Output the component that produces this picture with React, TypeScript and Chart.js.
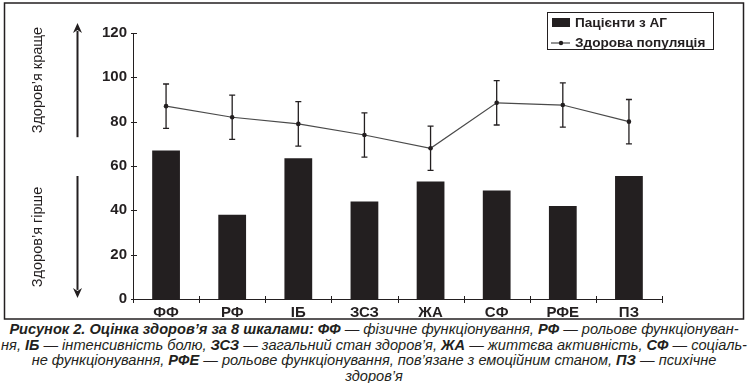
import React, { useEffect, useRef } from "react";
import { Chart, registerables } from "chart.js";

Chart.register(...registerables);

const categories = ["ФФ", "РФ", "ІБ", "ЗСЗ", "ЖА", "СФ", "РФЕ", "ПЗ"];
const patients = [67, 38, 63.5, 44, 53, 49, 42, 55.5];
const healthy = [87, 82, 79, 74, 68, 88.5, 87.5, 80];
const healthyErr = [10, 10, 10, 10, 10, 10, 10, 10];
const seriesLabels = ["Пацієнти з АГ", "Здорова популяція"];
const yTicks = [0, 20, 40, 60, 80, 100, 120];
const sideLabels = ["Здоров’я краще", "Здоров’я гірше"];
// arrow ranges in axis units: [tail, tip]
const arrowUp = [73, 124.5];
const arrowDown = [55.5, 0.5];

const INK = "#231f20";
const FONT = "'Liberation Sans', Arial, sans-serif";

const decorPlugin = {
  id: "decor",
  afterDatasetsDraw(chart: any) {
    const ctx = chart.ctx;
    const y = chart.scales.y;
    const meta = chart.getDatasetMeta(1);
    ctx.save();
    ctx.strokeStyle = INK;
    ctx.lineWidth = 1.3;
    meta.data.forEach((pt: any, i: number) => {
      const px = pt.x;
      const top = y.getPixelForValue(healthy[i] + healthyErr[i]);
      const bot = y.getPixelForValue(healthy[i] - healthyErr[i]);
      ctx.beginPath();
      ctx.moveTo(px, top);
      ctx.lineTo(px, bot);
      ctx.moveTo(px - 3, top);
      ctx.lineTo(px + 3, top);
      ctx.moveTo(px - 3, bot);
      ctx.lineTo(px + 3, bot);
      ctx.stroke();
    });
    ctx.restore();
  },
  afterDraw(chart: any) {
    const ctx = chart.ctx;
    const y = chart.scales.y;
    const area = chart.chartArea;
    ctx.save();
    ctx.strokeStyle = INK;
    ctx.fillStyle = INK;
    // tick marks crossing axes
    ctx.lineWidth = 1;
    ctx.beginPath();
    yTicks.forEach((v) => {
      const py = Math.round(y.getPixelForValue(v)) + 0.5;
      ctx.moveTo(area.left - 2, py);
      ctx.lineTo(area.left + 4, py);
    });
    const n = categories.length;
    for (let i = 0; i <= n; i++) {
      const px = Math.round(area.left + (i * (area.right - area.left)) / n) + 0.5;
      ctx.moveTo(px, area.bottom - 3);
      ctx.lineTo(px, area.bottom + 4);
    }
    ctx.stroke();

    // arrows
    const ax = 77.5;
    const drawArrow = (from: number, to: number) => {
      const p1 = y.getPixelForValue(from);
      const p2 = y.getPixelForValue(to);
      const dir = p2 < p1 ? -1 : 1;
      const headLen = 10;
      ctx.lineWidth = 2;
      ctx.beginPath();
      ctx.moveTo(ax, p1);
      ctx.lineTo(ax, p2 - dir * headLen + dir * 2);
      ctx.stroke();
      ctx.beginPath();
      ctx.moveTo(ax, p2);
      ctx.lineTo(ax - 4.5, p2 - dir * headLen);
      ctx.lineTo(ax, p2 - dir * (headLen - 3));
      ctx.lineTo(ax + 4.5, p2 - dir * headLen);
      ctx.closePath();
      ctx.fill();
      return (p1 + p2) / 2;
    };
    const c1 = drawArrow(arrowUp[0], arrowUp[1]);
    const c2 = drawArrow(arrowDown[0], arrowDown[1]);
    ctx.font = `14.5px ${FONT}`;
    ctx.textAlign = "center";
    ctx.textBaseline = "middle";
    [c1, c2].forEach((cy, i) => {
      ctx.save();
      ctx.translate(38, cy);
      ctx.rotate(-Math.PI / 2);
      ctx.fillText(sideLabels[i], 0, 0);
      ctx.restore();
    });

    // legend box
    const lx = 547.5, ly = 12.5, lw = 166, lh = 37;
    ctx.lineWidth = 1;
    ctx.strokeRect(lx, ly, lw, lh);
    ctx.fillStyle = chart.data.datasets[0].backgroundColor;
    ctx.fillRect(552, 18, 18, 9);
    ctx.strokeStyle = chart.data.datasets[1].borderColor;
    ctx.lineWidth = 1.2;
    ctx.beginPath();
    ctx.moveTo(551, 43);
    ctx.lineTo(570, 43);
    ctx.stroke();
    ctx.fillStyle = INK;
    ctx.beginPath();
    ctx.arc(561, 43, 2.2, 0, Math.PI * 2);
    ctx.fill();
    ctx.font = `bold 13.6px ${FONT}`;
    ctx.textAlign = "left";
    ctx.fillText(chart.data.datasets[0].label, 575, 23);
    ctx.fillText(chart.data.datasets[1].label, 575, 43.5);

    // outer frame
    ctx.lineWidth = 1.5;
    ctx.strokeStyle = INK;
    ctx.strokeRect(4.5, 3, 739, 316);
    ctx.restore();
  },
};

export default function App() {
  const ref = useRef<HTMLCanvasElement>(null);
  useEffect(() => {
    if (!ref.current) return;
    const chart = new Chart(ref.current, {
      type: "bar",
      data: {
        labels: categories,
        datasets: [
          {
            type: "bar",
            label: seriesLabels[0],
            data: patients,
            backgroundColor: INK,
            borderWidth: 0,
            categoryPercentage: 1,
            barPercentage: 0.42,
            order: 2,
          },
          {
            type: "line",
            label: seriesLabels[1],
            data: healthy,
            borderColor: "#4a4a4a",
            borderWidth: 1.2,
            pointRadius: 2.3,
            pointBackgroundColor: INK,
            pointBorderColor: INK,
            pointBorderWidth: 0,
            tension: 0,
            order: 1,
          } as any,
        ],
      },
      options: {
        animation: false,
        responsive: false,
        layout: { padding: { left: 0, right: 86, top: 33, bottom: 0 } },
        plugins: {
          legend: { display: false },
          tooltip: { enabled: false },
        },
        scales: {
          x: {
            offset: true,
            grid: { display: false, drawTicks: false },
            border: { display: true, color: INK, width: 1 },
            ticks: {
              color: INK,
              padding: 5,
              font: { family: FONT, size: 15, weight: "bold" },
            },
            afterFit: (s: any) => {
              s.height = 21;
            },
          },
          y: {
            min: 0,
            max: 120,
            ticks: {
              stepSize: 20,
              color: INK,
              padding: 6,
              font: { family: FONT, size: 15, weight: "bold" },
            },
            grid: { display: false, drawTicks: false },
            border: { display: true, color: INK, width: 1 },
            afterFit: (s: any) => {
              s.width = 133;
            },
          },
        },
      },
      plugins: [decorPlugin],
    });
    return () => chart.destroy();
  }, []);

  const capStyle: React.CSSProperties = {
    fontFamily: FONT,
    fontStyle: "italic",
    fontSize: "14.6px",
    lineHeight: "15.7px",
    color: INK,
    textAlign: "center",
    whiteSpace: "nowrap",
  };
  const b = (t: string) => <b>{t}</b>;
  return (
    <div style={{ position: "absolute", left: 0, top: 0, width: 748, height: 383, background: "#fff" }}>
      <canvas ref={ref} width={748} height={320} style={{ display: "block" }} />
      <div style={{ position: "absolute", left: 0, top: 322, width: 748, ...capStyle }}>
        <div>
          {b("Рисунок 2. Оцінка здоров’я за 8 шкалами: ФФ")} — фізичне функціонування, {b("РФ")} — рольове функціонуван-
        </div>
        <div>
          ня, {b("ІБ")} — інтенсивність болю, {b("ЗСЗ")} — загальний стан здоров’я, {b("ЖА")} — життєва активність, {b("СФ")} — соціаль-
        </div>
        <div>
          не функціонування, {b("РФЕ")} — рольове функціонування, пов’язане з емоційним станом, {b("ПЗ")} — психічне
        </div>
        <div>здоров’я</div>
      </div>
    </div>
  );
}
